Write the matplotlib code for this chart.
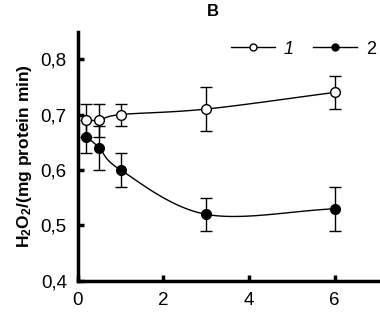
import numpy as np
import matplotlib
matplotlib.use('Agg')
import matplotlib.pyplot as plt

plt.rcParams['font.family'] = ['Liberation Sans', 'DejaVu Sans']
plt.rcParams['mathtext.default'] = 'regular'

# time points and values
time = [0.2, 0.5, 1, 3, 6]
series1 = [0.69, 0.69, 0.70, 0.71, 0.74]
err1 = [0.03, 0.03, 0.02, 0.04, 0.03]
series2 = [0.66, 0.64, 0.60, 0.52, 0.53]
err2 = [0.03, 0.04, 0.03, 0.03, 0.04]
yticks = [0.4, 0.5, 0.6, 0.7, 0.8]
xticks = [0, 2, 4, 6]


def smooth(x, y, n=30):
    # catmull-rom style smoothing for the connecting line
    x = np.asarray(x, float)
    y = np.asarray(y, float)
    px = np.concatenate([[2 * x[0] - x[1]], x, [2 * x[-1] - x[-2]]])
    py = np.concatenate([[2 * y[0] - y[1]], y, [2 * y[-1] - y[-2]]])
    xs, ys = [], []
    t = np.linspace(0, 1, n)
    for i in range(1, len(px) - 2):
        p0, p1, p2, p3 = px[i - 1], px[i], px[i + 1], px[i + 2]
        q0, q1, q2, q3 = py[i - 1], py[i], py[i + 1], py[i + 2]
        bx1 = p1 + (p2 - p0) / 6
        bx2 = p2 - (p3 - p1) / 6
        by1 = q1 + (q2 - q0) / 6
        by2 = q2 - (q3 - q1) / 6
        xs.append((1 - t) ** 3 * p1 + 3 * (1 - t) ** 2 * t * bx1 + 3 * (1 - t) * t ** 2 * bx2 + t ** 3 * p2)
        ys.append((1 - t) ** 3 * q1 + 3 * (1 - t) ** 2 * t * by1 + 3 * (1 - t) * t ** 2 * by2 + t ** 3 * q2)
    return np.concatenate(xs), np.concatenate(ys)


fig = plt.figure(figsize=(3.8, 3.17), dpi=100)
ax = fig.add_axes([0.205, 0.114, 0.795, 0.785])

sx, sy = smooth(time, series1)
ax.plot(sx, sy, c='k', lw=1)
sx, sy = smooth(time, series2)
ax.plot(sx, sy, c='k', lw=1)

ax.errorbar(time, series1, yerr=err1, fmt='none', ecolor='k', elinewidth=1, capsize=4, capthick=1)
ax.errorbar(time, series2, yerr=err2, fmt='none', ecolor='k', elinewidth=1, capsize=4, capthick=1)
ax.plot(time, series1, 'o', mfc='white', mec='k', mew=1, ms=7, zorder=5)
ax.plot(time, series2, 'o', mfc='k', mec='k', mew=1, ms=7, zorder=5)

h1, = ax.plot([], [], '-o', c='k', mfc='white', mec='k', ms=5, lw=1)
h2, = ax.plot([], [], '-o', c='k', mfc='k', mec='k', ms=5, lw=1)
leg = ax.legend([h1, h2], ['1', '2'], loc='upper right', ncol=2, frameon=False,
                fontsize=13, handlelength=2.4, columnspacing=1.1, handletextpad=0.5,
                bbox_to_anchor=(1.04, 1.03))
leg.get_texts()[0].set_fontstyle('italic')

ax.set_xlim(0, 7.06)
ax.set_ylim(0.4, 0.849)
ax.set_xticks(xticks)
ax.set_yticks(yticks)
ax.set_yticklabels([f'{v:.1f}'.replace('.', ',') for v in yticks])
ax.tick_params(direction='in', width=2.5, length=4, labelsize=13.5, pad=8)
for s in ['top', 'right']:
    ax.spines[s].set_visible(False)
for s in ['left', 'bottom']:
    ax.spines[s].set_linewidth(2.5)

ax.set_ylabel('H$_2$O$_2$/(mg protein min)', fontsize=12.5, fontweight='bold', labelpad=5)
fig.text(0.56, 0.965, 'B', ha='center', va='center', fontsize=12, fontweight='bold')

fig.savefig('out.png', dpi=100)
